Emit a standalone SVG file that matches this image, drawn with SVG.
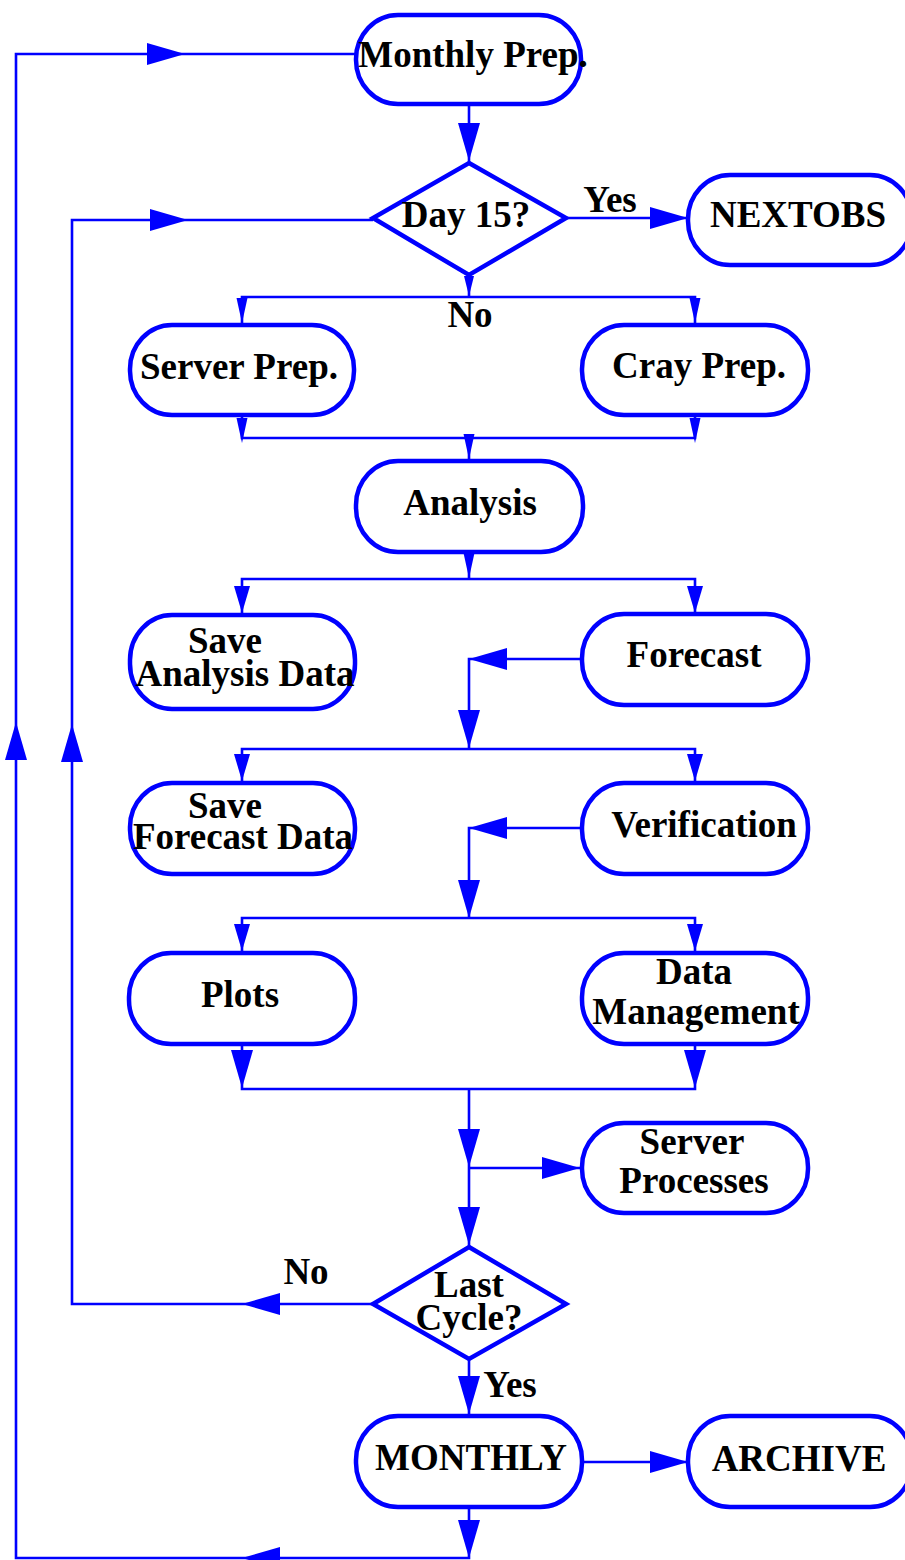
<svg xmlns="http://www.w3.org/2000/svg" xmlns:xlink="http://www.w3.org/1999/xlink" width="905" height="1560" viewBox="0 0 905 1560">
<style>
.node{fill:#fff;stroke:#0000ff;stroke-width:4.5}
.lbl{font-family:"Liberation Serif","Times New Roman",serif;font-weight:bold;font-size:37px;fill:#000;text-anchor:middle}
.conn{fill:none;stroke:#0000ff;stroke-width:2.6}
.ah{fill:#0000ff;stroke:none}
</style>
<defs>
<path id="ahB" class="ah" d="M0,0 L-38,-11 L-38,11 Z"/>
<path id="ahM" class="ah" d="M0,0 L-27,-8 L-27,8 Z"/>
<path id="ahS" class="ah" d="M0,0 L-25,-5.5 L-25,5.5 Z"/>
<path id="ahT" class="ah" d="M0,0 L-20,-5 L-20,5 Z"/>
</defs>
<rect width="905" height="1560" fill="#fff"/>
<g id="connectors">
<path class="conn" d="M469,1507 L469,1558 L16,1558 L16,54 L356,54"/>
<path class="conn" d="M373,1304 L72,1304 L72,220 L373,220"/>
<path class="conn" d="M469,104 L469,163"/>
<path class="conn" d="M566,218 L688,218"/>
<path class="conn" d="M469,275 L469,297 M242,325 L242,297 L695,297 L695,325"/>
<path class="conn" d="M242,415 L242,438 L695,438 L695,415 M469,438 L469,461"/>
<path class="conn" d="M469,552 L469,579 M242,615 L242,579 L695,579 L695,614"/>
<path class="conn" d="M582,659 L469,659 L469,749 M242,783 L242,749 L695,749 L695,783"/>
<path class="conn" d="M582,828 L469,828 L469,918 M242,953 L242,918 L695,918 L695,953"/>
<path class="conn" d="M242,1044 L242,1089 L695,1089 L695,1044 M469,1089 L469,1247 M469,1168 L582,1168"/>
<path class="conn" d="M469,1360 L469,1416"/>
<path class="conn" d="M582,1462 L688,1462"/>
<use xlink:href="#ahB" transform="translate(185,54)"/>
<use xlink:href="#ahB" transform="translate(188,220)"/>
<use xlink:href="#ahB" transform="translate(469,161) rotate(90)"/>
<use xlink:href="#ahB" transform="translate(688,218)"/>
<use xlink:href="#ahT" transform="translate(469,296) rotate(90)"/>
<use xlink:href="#ahS" transform="translate(242,323) rotate(90)"/>
<use xlink:href="#ahS" transform="translate(695,323) rotate(90)"/>
<use xlink:href="#ahS" transform="translate(242,443) rotate(90)"/>
<use xlink:href="#ahS" transform="translate(695,443) rotate(90)"/>
<use xlink:href="#ahS" transform="translate(469,459) rotate(90)"/>
<use xlink:href="#ahS" transform="translate(469,578) rotate(90)"/>
<use xlink:href="#ahM" transform="translate(242,613) rotate(90)"/>
<use xlink:href="#ahM" transform="translate(695,613) rotate(90)"/>
<use xlink:href="#ahB" transform="translate(469,659) rotate(180)"/>
<use xlink:href="#ahB" transform="translate(469,748) rotate(90)"/>
<use xlink:href="#ahM" transform="translate(242,781) rotate(90)"/>
<use xlink:href="#ahM" transform="translate(695,781) rotate(90)"/>
<use xlink:href="#ahB" transform="translate(469,828) rotate(180)"/>
<use xlink:href="#ahB" transform="translate(469,918) rotate(90)"/>
<use xlink:href="#ahM" transform="translate(242,951) rotate(90)"/>
<use xlink:href="#ahM" transform="translate(695,951) rotate(90)"/>
<use xlink:href="#ahB" transform="translate(242,1088) rotate(90)"/>
<use xlink:href="#ahB" transform="translate(695,1088) rotate(90)"/>
<use xlink:href="#ahB" transform="translate(469,1167) rotate(90)"/>
<use xlink:href="#ahB" transform="translate(580,1168)"/>
<use xlink:href="#ahB" transform="translate(469,1245) rotate(90)"/>
<use xlink:href="#ahB" transform="translate(242,1304) rotate(180)"/>
<use xlink:href="#ahB" transform="translate(469,1414) rotate(90)"/>
<use xlink:href="#ahB" transform="translate(688,1462)"/>
<use xlink:href="#ahB" transform="translate(469,1558) rotate(90)"/>
<use xlink:href="#ahB" transform="translate(242,1558) rotate(180)"/>
<use xlink:href="#ahB" transform="translate(16,722) rotate(-90)"/>
<use xlink:href="#ahB" transform="translate(72,724) rotate(-90)"/>
<text class="lbl" x="610" y="212">Yes</text>
<text class="lbl" x="470" y="327">No</text>
<text class="lbl" x="306" y="1284">No</text>
<text class="lbl" x="510" y="1397">Yes</text>
</g>
<g id="monthly-prep"><rect class="node" x="356" y="15" width="225" height="89" rx="42" ry="44"/><text class="lbl" x="473" y="67">Monthly Prep.</text></g>
<g id="day15"><polygon class="node" points="469,163 566,218 469,275 373,218"/><text class="lbl" x="466" y="227">Day 15?</text></g>
<g id="nextobs"><rect class="node" x="688" y="175" width="224" height="90" rx="42" ry="44"/><text class="lbl" x="798" y="227">NEXTOBS</text></g>
<g id="server-prep"><rect class="node" x="130" y="325" width="224" height="90" rx="42" ry="44"/><text class="lbl" x="239" y="379">Server Prep.</text></g>
<g id="cray-prep"><rect class="node" x="582" y="325" width="226" height="90" rx="42" ry="44"/><text class="lbl" x="699" y="378">Cray Prep.</text></g>
<g id="analysis"><rect class="node" x="356" y="461" width="227" height="91" rx="42" ry="44"/><text class="lbl" x="470" y="515">Analysis</text></g>
<g id="save-analysis"><rect class="node" x="130" y="615" width="225" height="94" rx="42" ry="45"/><text class="lbl" x="225" y="653">Save</text><text class="lbl" x="245" y="686">Analysis Data</text></g>
<g id="forecast"><rect class="node" x="582" y="614" width="226" height="91" rx="42" ry="44"/><text class="lbl" x="694" y="667">Forecast</text></g>
<g id="save-forecast"><rect class="node" x="130" y="783" width="225" height="91" rx="42" ry="44"/><text class="lbl" x="225" y="818">Save</text><text class="lbl" x="243" y="849">Forecast Data</text></g>
<g id="verification"><rect class="node" x="582" y="783" width="226" height="91" rx="42" ry="44"/><text class="lbl" x="704" y="837">Verification</text></g>
<g id="plots"><rect class="node" x="129" y="953" width="226" height="91" rx="42" ry="44"/><text class="lbl" x="240" y="1007">Plots</text></g>
<g id="data-management"><rect class="node" x="582" y="953" width="226" height="91" rx="42" ry="44"/><text class="lbl" x="694" y="984">Data</text><text class="lbl" x="696" y="1024">Management</text></g>
<g id="server-processes"><rect class="node" x="582" y="1123" width="226" height="90" rx="42" ry="44"/><text class="lbl" x="692" y="1154">Server</text><text class="lbl" x="694" y="1193">Processes</text></g>
<g id="last-cycle"><polygon class="node" points="469,1247 566,1304 469,1359 373,1304"/><text class="lbl" x="469" y="1297">Last</text><text class="lbl" x="469" y="1330">Cycle?</text></g>
<g id="monthly"><rect class="node" x="356" y="1416" width="226" height="91" rx="42" ry="44"/><text class="lbl" x="471" y="1470">MONTHLY</text></g>
<g id="archive"><rect class="node" x="688" y="1416" width="224" height="91" rx="42" ry="44"/><text class="lbl" x="799" y="1471">ARCHIVE</text></g>
</svg>
